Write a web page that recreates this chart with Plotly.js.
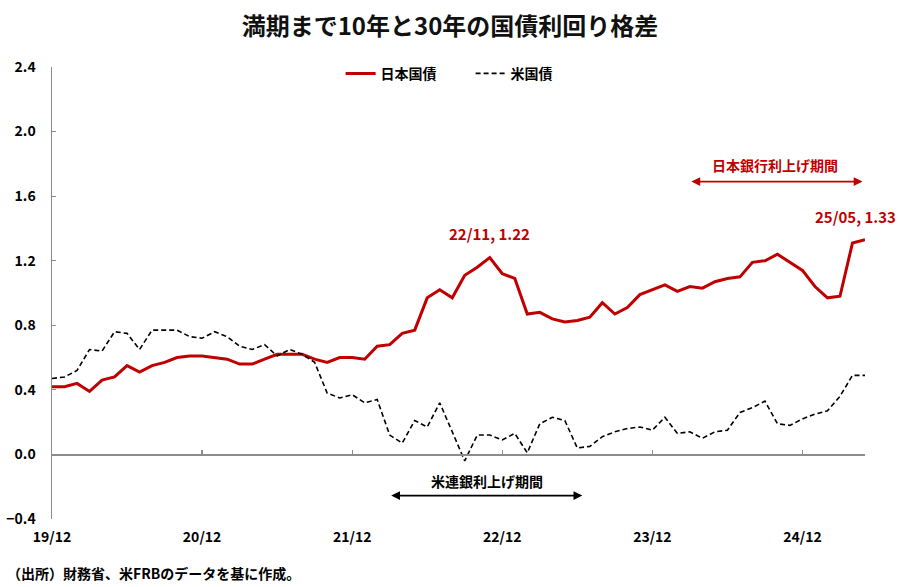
<!DOCTYPE html>
<html>
<head>
<meta charset="utf-8">
<script src="https://cdn.plot.ly/plotly-3.0.1.min.js"></script>
<style>
  html, body { margin: 0; padding: 0; background: #fff; }
  #chart { width: 900px; height: 587px; }
</style>
</head>
<body>
<div id="chart"></div>
<script>
// Monthly categories 2019/12 - 2025/05
const months = [
  "19/12",
  "20/01","20/02","20/03","20/04","20/05","20/06","20/07","20/08","20/09","20/10","20/11","20/12",
  "21/01","21/02","21/03","21/04","21/05","21/06","21/07","21/08","21/09","21/10","21/11","21/12",
  "22/01","22/02","22/03","22/04","22/05","22/06","22/07","22/08","22/09","22/10","22/11","22/12",
  "23/01","23/02","23/03","23/04","23/05","23/06","23/07","23/08","23/09","23/10","23/11","23/12",
  "24/01","24/02","24/03","24/04","24/05","24/06","24/07","24/08","24/09","24/10","24/11","24/12",
  "25/01","25/02","25/03","25/04","25/05"
];

// 30y - 10y spread, Japan (JGB)
const japan = [
  0.42,
  0.42,0.44,0.39,0.46,0.48,0.55,0.51,0.55,0.57,0.60,0.61,0.61,
  0.60,0.59,0.56,0.56,0.59,0.62,0.62,0.62,0.59,0.57,0.60,0.60,
  0.59,0.67,0.68,0.75,0.77,0.97,1.02,0.97,1.11,1.16,1.22,1.12,
  1.09,0.87,0.88,0.84,0.82,0.83,0.85,0.94,0.87,0.91,0.99,1.02,
  1.05,1.01,1.04,1.03,1.07,1.09,1.10,1.19,1.20,1.24,1.19,1.14,
  1.04,0.97,0.98,1.31,1.33
];

// 30y - 10y spread, US Treasuries
const us = [
  0.47,
  0.48,0.52,0.65,0.64,0.76,0.75,0.65,0.77,0.77,0.77,0.73,0.72,
  0.76,0.73,0.67,0.65,0.68,0.61,0.65,0.62,0.57,0.38,0.35,0.37,
  0.32,0.34,0.12,0.07,0.21,0.17,0.32,0.14,-0.04,0.12,0.12,0.09,
  0.13,0.01,0.19,0.23,0.21,0.04,0.05,0.11,0.14,0.16,0.17,0.15,
  0.23,0.13,0.14,0.10,0.14,0.15,0.26,0.29,0.33,0.19,0.18,0.22,
  0.25,0.27,0.36,0.49,0.49
];

const xTicks = ["19/12","20/12","21/12","22/12","23/12","24/12"];
const yTicks = [-0.4, 0.0, 0.4, 0.8, 1.2, 1.6, 2.0, 2.4];

const seriesNames = ["日本国債", "米国債"];
const titleText = "満期まで10年と30年の国債利回り格差";
const sourceText = "（出所）財務省、米FRBのデータを基に作成。";
const fedText = "米連銀利上げ期間";
const bojText = "日本銀行利上げ期間";

const RED = "#C00000";
const FONT = "Noto Sans CJK JP, Noto Sans, sans-serif";

const lastIdx = months.length - 1;
const peakIdx = months.indexOf("22/11");

const traces = [
  {
    x: months, y: japan, name: seriesNames[0], type: "scatter", mode: "lines",
    line: { color: RED, width: 3 }, xaxis: "x", yaxis: "y", hoverinfo: "skip"
  },
  {
    x: months, y: us, name: seriesNames[1], type: "scatter", mode: "lines",
    line: { color: "#000000", width: 1.6, dash: "5px,3px" }, xaxis: "x2", yaxis: "y", hoverinfo: "skip"
  }
];

const yMin = -0.4, yMax = 2.4;

const layout = {
  width: 900, height: 587,
  margin: { l: 52, r: 35, t: 67, b: 68 },
  paper_bgcolor: "#ffffff", plot_bgcolor: "#ffffff",
  font: { family: FONT, size: 14, color: "#000", weight: "bold" },
  title: {
    text: titleText,
    font: { family: FONT, size: 24, weight: "bold", color: "#111" },
    x: 0.5, xanchor: "center", y: 0.955, yanchor: "middle"
  },
  showlegend: true,
  legend: {
    orientation: "h", x: 0.355, xanchor: "left", y: 0.985, yanchor: "middle",
    font: { family: FONT, size: 14, weight: "bold" },
    itemwidth: 30, entrywidth: 85, bgcolor: "rgba(0,0,0,0)"
  },
  xaxis: {
    type: "category", categoryorder: "array", categoryarray: months,
    range: [0, lastIdx], showgrid: false, zeroline: false, showline: false,
    ticks: "", tickmode: "array", tickvals: xTicks, ticktext: xTicks,
    tickfont: { family: FONT, size: 14, weight: "bold" }, ticklabelstandoff: 8,
    fixedrange: true
  },
  xaxis2: {
    type: "category", categoryorder: "array", categoryarray: months,
    overlaying: "x", anchor: "free", position: (0 - yMin) / (yMax - yMin),
    range: [0, lastIdx], showgrid: false, zeroline: false,
    showline: true, linecolor: "#8c8c8c", linewidth: 1.2,
    ticks: "inside", ticklen: 4, tickcolor: "#8c8c8c", tickwidth: 1.2,
    tickmode: "array", tickvals: xTicks, showticklabels: false,
    fixedrange: true
  },
  yaxis: {
    range: [yMin, yMax], tickmode: "array", tickvals: yTicks, tickformat: ".1f",
    showgrid: false, zeroline: false, showline: true, linecolor: "#8c8c8c", linewidth: 1.5,
    ticks: "inside", ticklen: 4, tickcolor: "#8c8c8c",
    tickfont: { family: FONT, size: 14, weight: "bold" }, ticklabelstandoff: 12,
    fixedrange: true
  },
  annotations: [
    {
      x: peakIdx, y: japan[peakIdx], xref: "x", yref: "y",
      text: months[peakIdx] + ", " + japan[peakIdx].toFixed(2),
      showarrow: false, yanchor: "bottom", yshift: 11,
      font: { family: FONT, size: 15, color: RED, weight: "bold" }
    },
    {
      x: lastIdx, y: japan[lastIdx], xref: "x", yref: "y",
      text: months[lastIdx] + ", " + japan[lastIdx].toFixed(2),
      showarrow: false, xanchor: "center", xshift: -10, yanchor: "bottom", yshift: 11,
      font: { family: FONT, size: 15, color: RED, weight: "bold" }
    },
    {
      x: 57.8, y: 1.79, xref: "x", yref: "y", text: bojText, showarrow: false,
      font: { family: FONT, size: 14, color: RED, weight: "bold" }
    },
    {
      x: 64.8, y: 1.69, ax: 51.0, ay: 1.69, xref: "x", yref: "y", axref: "x", ayref: "y",
      text: "", showarrow: true, arrowside: "end+start", arrowhead: 2, arrowsize: 1.1,
      arrowwidth: 1.6, arrowcolor: RED
    },
    {
      x: 34.8, y: -0.165, xref: "x", yref: "y", text: fedText, showarrow: false,
      font: { family: FONT, size: 14, color: "#000", weight: "bold" }
    },
    {
      x: 42.4, y: -0.255, ax: 27.0, ay: -0.255, xref: "x", yref: "y", axref: "x", ayref: "y",
      text: "", showarrow: true, arrowside: "end+start", arrowhead: 2, arrowsize: 1.1,
      arrowwidth: 1.6, arrowcolor: "#000"
    },
    {
      x: 0, y: 0, xref: "paper", yref: "paper", xanchor: "left", yanchor: "middle",
      text: sourceText, showarrow: false, xshift: -47, yshift: -54,
      font: { family: FONT, size: 14, color: "#000", weight: "bold" }
    }
  ]
};

Plotly.newPlot("chart", traces, layout, { displayModeBar: false, staticPlot: true });
</script>
</body>
</html>
